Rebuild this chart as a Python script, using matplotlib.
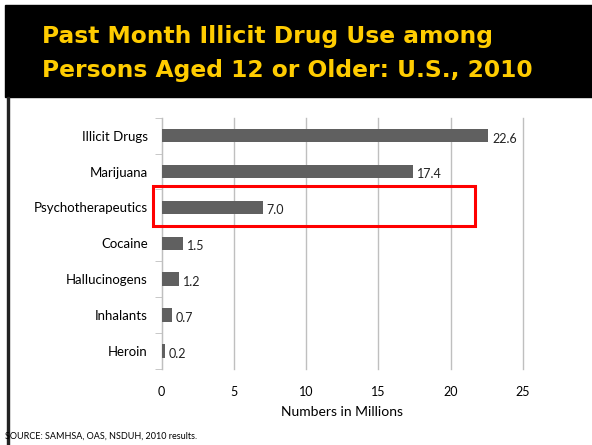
import numpy as np
import matplotlib.pyplot as plt
from matplotlib.patches import Rectangle

# data
drugs = ['Illicit Drugs', 'Marijuana', 'Psychotherapeutics', 'Cocaine',
         'Hallucinogens', 'Inhalants', 'Heroin']
millions = [22.6, 17.4, 7.0, 1.5, 1.2, 0.7, 0.2]
xticks = [0, 5, 10, 15, 20, 25]

W, H = 592, 445
fig = plt.figure(figsize=(W / 100, H / 100), dpi=100)
fig.patch.set_facecolor('white')

# black header band and left border
fig.patches.append(Rectangle((5 / W, 1 - 97 / H), 1 - 5 / W, 92 / H,
                             transform=fig.transFigure, color='black', zorder=0))
fig.patches.append(Rectangle((7 / W, 0), 2.2 / W, 1 - 97 / H,
                             transform=fig.transFigure, color='#222222', zorder=0))
fig.text(42 / W, 1 - 37 / H, 'Past Month Illicit Drug Use among',
         color='#FFCC00', fontsize=16.8, fontweight='bold', va='center', ha='left')
fig.text(42 / W, 1 - 70 / H, 'Persons Aged 12 or Older: U.S., 2010',
         color='#FFCC00', fontsize=16.8, fontweight='bold', va='center', ha='left')

ax = fig.add_axes([161.7 / W, (H - 369) / H, (523 - 161.7) / W, (369 - 117.7) / H])
y = np.arange(len(drugs))
ax.barh(y, millions, height=0.38, color='#606060', zorder=3)
for yi, v in zip(y, millions):
    ax.text(v + 0.25, yi + 0.08, '%.1f' % v, va='center', ha='left',
            fontsize=9, color='#222222', family='Lato')

ax.set_xlim(0, 25)
ax.set_ylim(len(drugs) - 0.5, -0.5)
ax.set_xticks(xticks)
ax.set_xticklabels([str(t) for t in xticks], family='Lato', fontsize=9)
ax.set_yticks(y)
ax.set_yticklabels(drugs, family='Lato', fontsize=9.5)
ax.set_yticks(np.arange(len(drugs) + 1) - 0.5, minor=True)
ax.tick_params(axis='y', which='major', length=0, pad=10)
ax.tick_params(axis='y', which='minor', length=5, color='#BFBFBF')
ax.tick_params(axis='x', length=0, pad=12)
ax.xaxis.grid(True, color='#BFBFBF', linewidth=1, zorder=0)
for gl in ax.get_xgridlines():
    gl.set_clip_on(False)
for s in ['top', 'right', 'bottom']:
    ax.spines[s].set_visible(False)
ax.spines['left'].set_color('#BFBFBF')
ax.set_xlabel('Numbers in Millions', family='Lato', fontsize=10, labelpad=6)

# highlight box around Psychotherapeutics
fig.patches.append(Rectangle((153 / W, 1 - 226 / H), (475 - 153) / W, 40 / H,
                             transform=fig.transFigure, fill=False,
                             edgecolor='#FF0000', linewidth=2.2, zorder=5))

fig.text(5 / W, 1 - 436 / H, 'SOURCE: SAMHSA, OAS, NSDUH, 2010 results.',
         fontsize=6.5, family='Lato', va='center', ha='left')

plt.savefig('out.png', dpi=100)
